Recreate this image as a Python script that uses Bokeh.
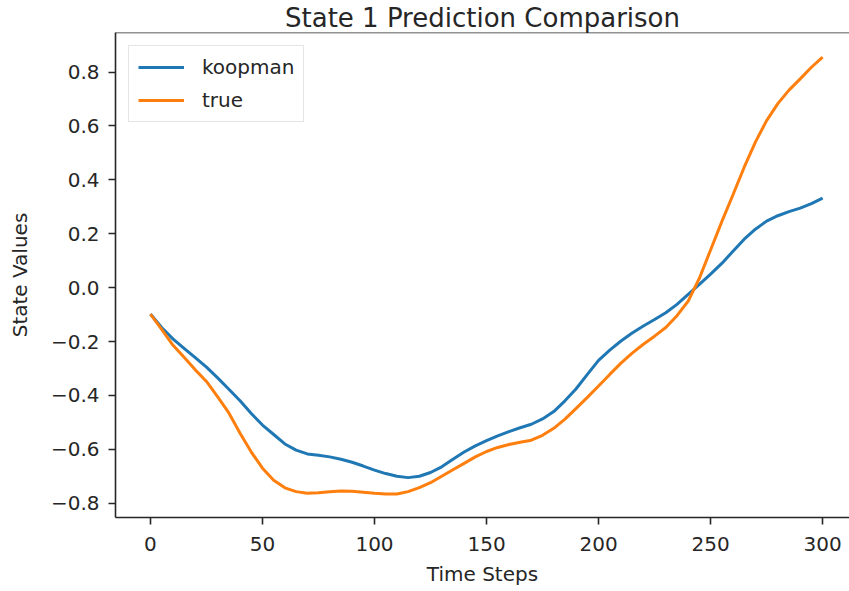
from bokeh.plotting import figure
from bokeh.models import Range1d, Span, Legend, LegendItem
from bokeh.embed import file_html
from bokeh.resources import INLINE

# ---- data ----
time_steps = list(range(0, 301, 5))
koopman = [
    -0.098, -0.148, -0.190, -0.225, -0.260, -0.295, -0.335, -0.377, -0.420, -0.467,
    -0.510, -0.545, -0.580, -0.603, -0.617, -0.622, -0.628, -0.637, -0.648, -0.662,
    -0.677, -0.690, -0.700, -0.705, -0.700, -0.686, -0.665, -0.637, -0.610, -0.587,
    -0.568, -0.550, -0.534, -0.520, -0.507, -0.487, -0.460, -0.420, -0.375, -0.322,
    -0.270, -0.232, -0.198, -0.168, -0.142, -0.118, -0.093, -0.062, -0.025, 0.012,
    0.050, 0.090, 0.135, 0.180, 0.217, 0.247, 0.267, 0.282, 0.295, 0.312,
    0.332,
]
true_vals = [
    -0.098, -0.155, -0.213, -0.258, -0.305, -0.348, -0.405, -0.465, -0.540, -0.610,
    -0.670, -0.715, -0.743, -0.757, -0.763, -0.761, -0.757, -0.755, -0.756, -0.759,
    -0.763, -0.766, -0.766, -0.757, -0.742, -0.724, -0.700, -0.676, -0.652, -0.628,
    -0.608, -0.593, -0.582, -0.574, -0.566, -0.548, -0.522, -0.488, -0.448, -0.407,
    -0.365, -0.322, -0.280, -0.243, -0.210, -0.180, -0.148, -0.104, -0.050, 0.035,
    0.140, 0.245, 0.345, 0.447, 0.540, 0.620, 0.683, 0.733, 0.775, 0.818,
    0.856,
]
x_ticks = [0, 50, 100, 150, 200, 250, 300]
y_ticks = [-0.8, -0.6, -0.4, -0.2, 0.0, 0.2, 0.4, 0.6, 0.8]

TEXT = "#262626"
FONT = "DejaVu Sans"
Y_TOP = 0.947

p = figure(
    width=849, height=591,
    output_backend="svg", toolbar_location=None,
    x_range=Range1d(-15.6, 312.0), y_range=Range1d(-0.853, Y_TOP),
    title="State 1 Prediction Comparison",
    min_border_left=115, min_border_right=0, min_border_top=32, min_border_bottom=74,
)
p.background_fill_color = "white"
p.border_fill_color = "white"
p.outline_line_color = None
p.grid.visible = False

p.title.align = "center"
p.title.text_font = FONT
p.title.text_font_size = "26px"
p.title.text_font_style = "normal"
p.title.text_color = TEXT
p.title.standoff = 0

for ax in (p.xaxis[0], p.yaxis[0]):
    ax.axis_line_color = TEXT
    ax.axis_line_width = 1.6
    ax.major_tick_line_color = TEXT
    ax.major_tick_line_width = 1.6
    ax.major_tick_out = 7
    ax.major_tick_in = 0
    ax.minor_tick_out = 0
    ax.minor_tick_in = 0
    ax.major_label_text_font = FONT
    ax.major_label_text_font_size = "20px"
    ax.major_label_text_color = TEXT
    ax.axis_label_text_font = FONT
    ax.axis_label_text_font_size = "20px"
    ax.axis_label_text_font_style = "normal"
    ax.axis_label_text_color = TEXT

p.xaxis.ticker = x_ticks
p.yaxis.ticker = y_ticks
p.xaxis.major_label_standoff = 12
p.yaxis.major_label_standoff = 9
p.yaxis.major_label_overrides = {v: (f"{v:.1f}".replace("-", "\u2212")) for v in y_ticks}
p.xaxis.axis_label = "Time Steps"
p.yaxis.axis_label = "State Values"
p.xaxis.axis_label_standoff = 8
p.yaxis.axis_label_standoff = 16

# top spine
p.add_layout(Span(location=Y_TOP, dimension="width", line_color=TEXT, line_width=1.6))

r1 = p.line(time_steps, koopman, line_color="#1f77b4", line_width=3)
r2 = p.line(time_steps, true_vals, line_color="#ff7f0e", line_width=3)

legend = Legend(items=[LegendItem(label="koopman", renderers=[r1]),
                       LegendItem(label="true", renderers=[r2])])
legend.location = "top_left"
legend.margin = 13
legend.padding = 9
legend.spacing = 9
legend.glyph_width = 46
legend.glyph_height = 24
legend.label_height = 24
legend.label_standoff = 18
legend.label_text_font = FONT
legend.label_text_font_size = "20px"
legend.label_text_color = TEXT
legend.border_line_color = "#cccccc"
legend.border_line_width = 1
legend.background_fill_alpha = 0.8
p.add_layout(legend)

open("out.html", "w").write(file_html(p, INLINE))
